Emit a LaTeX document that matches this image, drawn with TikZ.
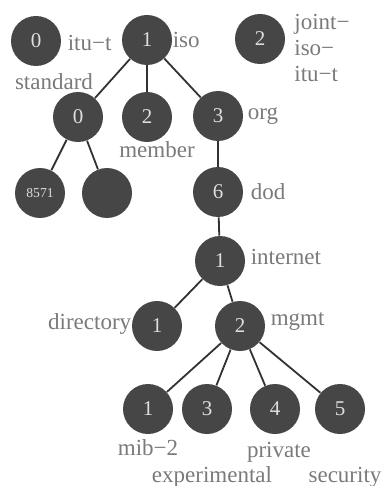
\documentclass[tikz,border=0pt]{standalone}
\usepackage{fontspec}
\setmainfont{Liberation Serif}
\usepackage{tikz}
\usetikzlibrary{positioning}
\definecolor{nodegray}{RGB}{70,70,70}
\definecolor{digitgray}{RGB}{222,222,222}
\definecolor{labelgray}{RGB}{122,122,122}
\definecolor{edgegray}{RGB}{50,50,50}

\begin{document}
\begin{tikzpicture}[
    x=0.5pt, y=-0.5pt,
    oid/.style={circle, fill=nodegray, text=digitgray, minimum size=25pt, inner sep=0pt, font=\fontsize{10.5}{12}\selectfont},
    lbl/.style={text=labelgray, inner sep=0pt, font=\fontsize{11.5}{13}\selectfont},
    edge/.style={draw=edgegray, line width=0.9pt}
]
    \useasboundingbox (0,0) rectangle (384,486);

    % Top level arcs
    \node [oid] (itut) at (36,41) {0};
    \node [oid] (iso) at (147,40) {1};
    \node [oid] (joint) at (260,39) {2};

    % Under iso
    \node [oid] (standard) at (78,117) {0};
    \node [oid] (member) at (147,117) {2};
    \node [oid] (org) at (218,116) {3};
    \node [oid, font=\fontsize{6.8}{8}\selectfont] (ft) at (40,193) {8571};
    \node [oid] (blank) at (107,193) {};

    % Down to internet
    \node [oid] (dod) at (218,192) {6};
    \node [oid] (internet) at (220,261) {1};
    \node [oid] (directory) at (157,326) {1};
    \node [oid] (mgmt) at (240,326) {2};

    % Bottom row
    \node [oid] (mib) at (148,409) {1};
    \node [oid] (experimental) at (207,409) {3};
    \node [oid] (private) at (275,409) {4};
    \node [oid] (security) at (340,409) {5};

    % Labels
    \node [lbl, right=3pt of itut, yshift=-1pt] (itutlbl) {itu−t};
    \node [lbl, right=0pt of iso] (isolbl) {iso};
    \node [lbl, anchor=north west, align=left] (jointlbl) at (294,14) {joint−\\iso−\\itu−t};
    \node [lbl] (standardlbl) at (54,82) {standard};
    \node [lbl] (memberlbl) at (157,150) {member};
    \node [lbl, right=2pt of org] (orglbl) {org};
    \node [lbl, right=3.5pt of dod] (dodlbl) {dod};
    \node [lbl, right=2.5pt of internet, yshift=2pt] (internetlbl) {internet};
    \node [lbl, left=0pt of directory, yshift=1pt] (directorylbl) {directory};
    \node [lbl, right=2.5pt of mgmt, yshift=2pt] (mgmtlbl) {mgmt};
    \node [lbl] (miblbl) at (148,448) {mib−2};
    \node [lbl] (experimentallbl) at (212,477) {experimental};
    \node [lbl] (privatelbl) at (279,452) {private};
    \node [lbl] (securitylbl) at (345,477) {security};

    % Connect nodes
    \path [edge] (iso) -- (standard);
    \path [edge] (iso) -- (member);
    \path [edge] (iso) -- (org);
    \path [edge] (standard) -- (ft);
    \path [edge] (standard) -- (blank);
    \path [edge] (org) -- (dod);
    \path [edge] (dod) -- (internet);
    \path [edge] (internet) -- (directory);
    \path [edge] (internet) -- (mgmt);
    \path [edge] (mgmt) -- (mib);
    \path [edge] (mgmt) -- (experimental);
    \path [edge] (mgmt) -- (private);
    \path [edge] (mgmt) -- (security);

\end{tikzpicture}
\end{document}
